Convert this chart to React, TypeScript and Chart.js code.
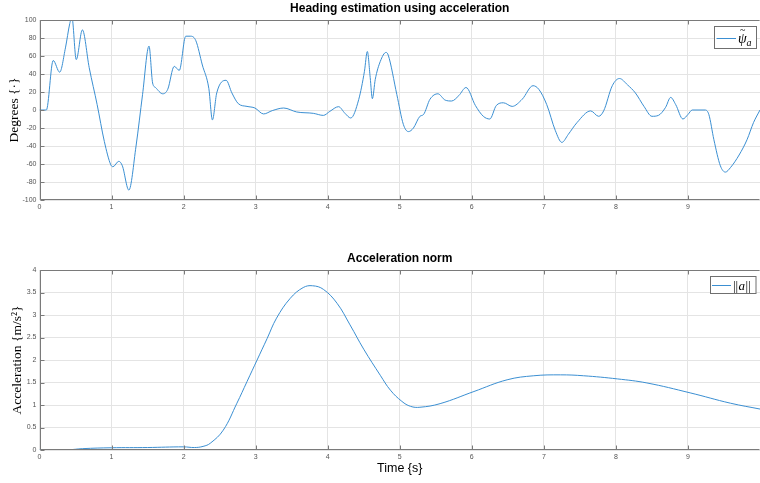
import React, { useEffect, useRef } from 'react';
import { Chart, registerables } from 'chart.js';

Chart.register(...registerables);

// ---------- data ----------
const headingTime = [
  0, 0.095, 0.19, 0.28, 0.36, 0.42, 0.45, 0.51, 0.595, 0.69, 0.8, 0.9, 0.99, 1.02, 1.1, 1.15, 1.24,
  1.34, 1.43, 1.52, 1.57, 1.61, 1.71, 1.78, 1.87, 1.94, 2.03, 2.1, 2.17, 2.26, 2.35, 2.4,
  2.46, 2.59, 2.67, 2.76, 2.88, 2.99, 3.11, 3.23, 3.39, 3.57, 3.8, 3.94, 4.03,
  4.15, 4.24, 4.32, 4.43, 4.51, 4.55, 4.59, 4.62, 4.66, 4.73, 4.81, 4.84, 4.96, 5.05, 5.12,
  5.19, 5.28, 5.33, 5.42, 5.53, 5.63, 5.72, 5.82, 5.92, 6.05, 6.16, 6.25, 6.34, 6.44, 6.56, 6.7,
  6.85, 6.93, 7.04, 7.16, 7.25, 7.34, 7.46, 7.65, 7.76, 7.83, 7.95, 8.05, 8.16, 8.27, 8.39, 8.5,
  8.59, 8.69, 8.76, 8.83, 8.93, 9.0, 9.06, 9.24, 9.29, 9.36, 9.45, 9.52, 9.59, 9.71, 9.82, 9.91, 10.0,
];
const headingDeg = [
  0, 0, 55, 42, 69, 96, 103, 56, 89, 47, 6, -35, -61, -63, -57, -62, -89,
  -40, 17, 71, 30, 25, 18, 23, 48.5, 44, 82, 82, 77, 50, 24, -11,
  19, 33, 19, 7, 4, 2.2, -4.4, -0.7, 2.2, -2.2, -3.7, -6, -1.5,
  3.7, -3.7, -8.9, 11.5, 43, 65, 36, 12.6, 34, 54, 64, 61, 17, -16, -24,
  -20, -7, -5, 12, 18, 11, 10, 16, 25, 5, -7, -10, 5, 8, 4, 12,
  27, 23, 6, -23, -36, -27, -14, -1, -7, -1, 27, 35, 28, 19, 4, -7,
  -6, 3, 14, 6, -10, -5, 0, 0, -5, -33, -62, -69, -64, -50, -33, -14, 0,
];

const accelTime = [
  0, 0.4, 0.6, 1.0, 1.5, 2.0, 2.15, 2.27, 2.37, 2.55, 2.74, 2.88, 3.02, 3.16, 3.29, 3.48, 3.66, 3.79,
  3.94, 4.13, 4.31, 4.5, 4.73, 4.87, 5.03, 5.15, 5.28, 5.56, 6.03, 6.49, 6.86, 7.23, 7.55, 8.02,
  8.43, 9.03, 9.59, 10,
];
const accelNorm = [
  0, 0.005, 0.03, 0.05, 0.055, 0.07, 0.055, 0.08, 0.15, 0.44, 1.04, 1.52, 2.0, 2.48, 2.93, 3.37, 3.61, 3.65,
  3.57, 3.26, 2.78, 2.24, 1.66, 1.33, 1.08, 0.97, 0.95, 1.03, 1.3, 1.56, 1.65, 1.67, 1.65, 1.58,
  1.49, 1.27, 1.04, 0.91,
];

const xTickValues = [0, 1, 2, 3, 4, 5, 6, 7, 8, 9];
const headingTickValues = [-100, -80, -60, -40, -20, 0, 20, 40, 60, 80, 100];
const accelTickValues = [0, 0.5, 1, 1.5, 2, 2.5, 3, 3.5, 4];

// ---------- styles ----------
const LINE = '#3b8fd2';
const GRID = '#e4e4e4';
const AXIS = '#7a7a7a';
const TICK_COLOR = '#555555';
const SANS = '"Liberation Sans", Arial, Helvetica, sans-serif';
const SERIF = '"Liberation Serif", "Times New Roman", serif';

type LegendDraw = (ctx: CanvasRenderingContext2D) => void;

function framePlugin(id: string, title: string, drawLegend: LegendDraw) {
  return {
    id,
    afterDraw(chart: any) {
      const { ctx, chartArea: a } = chart;
      ctx.save();
      ctx.strokeStyle = AXIS;
      ctx.lineWidth = 1;
      const l = Math.round(a.left) + 0.5;
      const t = Math.round(a.top) + 0.5;
      const r = Math.round(a.right) - 0.5;
      const b = Math.round(a.bottom) - 0.5;
      ctx.beginPath();
      ctx.moveTo(l, b);
      ctx.lineTo(l, t);
      ctx.lineTo(r, t);
      ctx.moveTo(l, b);
      ctx.lineTo(r, b);
      ctx.stroke();
      const xs = chart.scales.x;
      const ys = chart.scales.y;
      ctx.beginPath();
      xs.ticks.forEach((tk: any) => {
        const px = Math.round(xs.getPixelForValue(tk.value)) + 0.5;
        ctx.moveTo(px, t);
        ctx.lineTo(px, t + 4);
        ctx.moveTo(px, b);
        ctx.lineTo(px, b - 4);
      });
      ys.ticks.forEach((tk: any) => {
        const py = Math.round(ys.getPixelForValue(tk.value)) + 0.5;
        ctx.moveTo(l, py);
        ctx.lineTo(l + 4, py);
      });
      ctx.stroke();
      ctx.fillStyle = '#000';
      ctx.font = `bold 12px ${SANS}`;
      ctx.textAlign = 'center';
      ctx.textBaseline = 'middle';
      ctx.fillText(title, (a.left + a.right) / 2, a.top - 11);
      drawLegend(ctx);
      ctx.restore();
    },
  };
}

const drawHeadingLegend: LegendDraw = (ctx) => {
  ctx.fillStyle = '#fff';
  ctx.fillRect(714.5, 26.5, 42, 22);
  ctx.strokeStyle = '#6f6f6f';
  ctx.lineWidth = 1;
  ctx.strokeRect(714.5, 26.5, 42, 22);
  ctx.strokeStyle = LINE;
  ctx.beginPath();
  ctx.moveTo(716.5, 38.5);
  ctx.lineTo(736, 38.5);
  ctx.stroke();
  ctx.fillStyle = '#000';
  ctx.textAlign = 'left';
  ctx.textBaseline = 'alphabetic';
  ctx.font = `italic 14px ${SERIF}`;
  ctx.fillText('ψ', 738, 43);
  ctx.font = `10px ${SERIF}`;
  ctx.fillText('~', 740, 33);
  ctx.font = `italic 10px ${SERIF}`;
  ctx.fillText('a', 746.5, 46);
};

const drawAccelLegend: LegendDraw = (ctx) => {
  ctx.fillStyle = '#fff';
  ctx.fillRect(710.5, 26.5, 45.5, 17);
  ctx.strokeStyle = '#6f6f6f';
  ctx.lineWidth = 1;
  ctx.strokeRect(710.5, 26.5, 45.5, 17);
  ctx.strokeStyle = LINE;
  ctx.beginPath();
  ctx.moveTo(712, 35.5);
  ctx.lineTo(731, 35.5);
  ctx.stroke();
  ctx.fillStyle = '#000';
  ctx.textAlign = 'left';
  ctx.textBaseline = 'alphabetic';
  ctx.font = `13px ${SERIF}`;
  ctx.fillText('||', 733, 40);
  ctx.font = `italic 13px ${SERIF}`;
  ctx.fillText('a', 738.5, 40);
  ctx.font = `13px ${SERIF}`;
  ctx.fillText('||', 745.5, 40);
};

function buildConfig(opts: {
  xs: number[];
  ys: number[];
  label: string;
  yMin: number;
  yMax: number;
  yTicks: number[];
  yTitle: string;
  yTitlePad: number;
  xScaleHeight: number;
  xTitle?: string;
  smooth: boolean;
  plugin: any;
}) {
  const data = opts.xs.map((x, i) => ({ x, y: opts.ys[i] }));
  const curve = opts.smooth
    ? { tension: 0.4, cubicInterpolationMode: 'default' as const }
    : { cubicInterpolationMode: 'monotone' as const };
  return {
    type: 'line' as const,
    data: {
      datasets: [
        {
          label: opts.label,
          data,
          borderColor: LINE,
          borderWidth: 1,
          pointRadius: 0,
          fill: false,
          ...curve,
        },
      ],
    },
    options: {
      animation: false as const,
      responsive: false,
      devicePixelRatio: 1,
      layout: { padding: { top: 20, left: 0, right: 0, bottom: 0 } },
      plugins: {
        legend: { display: false },
        tooltip: { enabled: false },
        title: { display: false },
      },
      scales: {
        x: {
          type: 'linear' as const,
          min: 0,
          max: 10,
          afterBuildTicks: (s: any) => {
            s.ticks = xTickValues.map((v) => ({ value: v }));
          },
          afterFit: (s: any) => {
            s.height = opts.xScaleHeight;
          },
          ticks: {
            autoSkip: false,
            maxRotation: 0,
            padding: 3,
            color: TICK_COLOR,
            font: { family: SANS, size: 7 },
            callback: (v: any) => String(v),
          },
          grid: { color: GRID, drawTicks: false },
          border: { display: false },
          title: opts.xTitle
            ? {
                display: true,
                text: opts.xTitle,
                color: '#000',
                font: { family: SANS, size: 12.5 },
                padding: { top: 0, bottom: 7 },
              }
            : { display: false },
        },
        y: {
          type: 'linear' as const,
          min: opts.yMin,
          max: opts.yMax,
          afterBuildTicks: (s: any) => {
            s.ticks = opts.yTicks.map((v) => ({ value: v }));
          },
          afterFit: (s: any) => {
            s.width = 39.5;
          },
          ticks: {
            autoSkip: false,
            padding: 3,
            color: TICK_COLOR,
            font: { family: SANS, size: 7 },
            callback: (v: any) => String(v),
          },
          grid: { color: GRID, drawTicks: false },
          border: { display: false },
          title: {
            display: true,
            text: opts.yTitle,
            color: '#000',
            font: { family: SERIF, size: 13.5 },
            padding: { top: opts.yTitlePad, bottom: 0 },
          },
        },
      },
    },
    plugins: [opts.plugin],
  };
}

function PlotCanvas({ config, width, height }: { config: any; width: number; height: number }) {
  const ref = useRef<HTMLCanvasElement | null>(null);
  useEffect(() => {
    if (!ref.current) return;
    const chart = new Chart(ref.current, config);
    return () => chart.destroy();
  }, [config]);
  return <canvas ref={ref} width={width} height={height} style={{ display: 'block', width, height }} />;
}

const headingConfig = buildConfig({
  xs: headingTime,
  ys: headingDeg,
  label: 'ψ̃a',
  yMin: -100,
  yMax: 100,
  yTicks: headingTickValues,
  yTitle: 'Degrees {·}',
  yTitlePad: 6,
  xScaleHeight: 15,
  smooth: false,
  plugin: framePlugin('headingFrame', 'Heading estimation using acceleration', drawHeadingLegend),
});

const accelConfig = buildConfig({
  xs: accelTime,
  ys: accelNorm,
  label: '||a||',
  yMin: 0,
  yMax: 4,
  yTicks: accelTickValues,
  yTitle: 'Acceleration {m/s²}',
  yTitlePad: 9.5,
  xScaleHeight: 33,
  xTitle: 'Time {s}',
  smooth: true,
  plugin: framePlugin('accelFrame', 'Acceleration norm', drawAccelLegend),
});

export default function App() {
  return (
    <div style={{ position: 'fixed', left: 0, top: 0, width: 760, height: 483, background: '#fff' }}>
      <div style={{ position: 'absolute', left: 0, top: 0 }}>
        <PlotCanvas config={headingConfig} width={760} height={215} />
      </div>
      <div style={{ position: 'absolute', left: 0, top: 250 }}>
        <PlotCanvas config={accelConfig} width={760} height={233} />
      </div>
    </div>
  );
}
